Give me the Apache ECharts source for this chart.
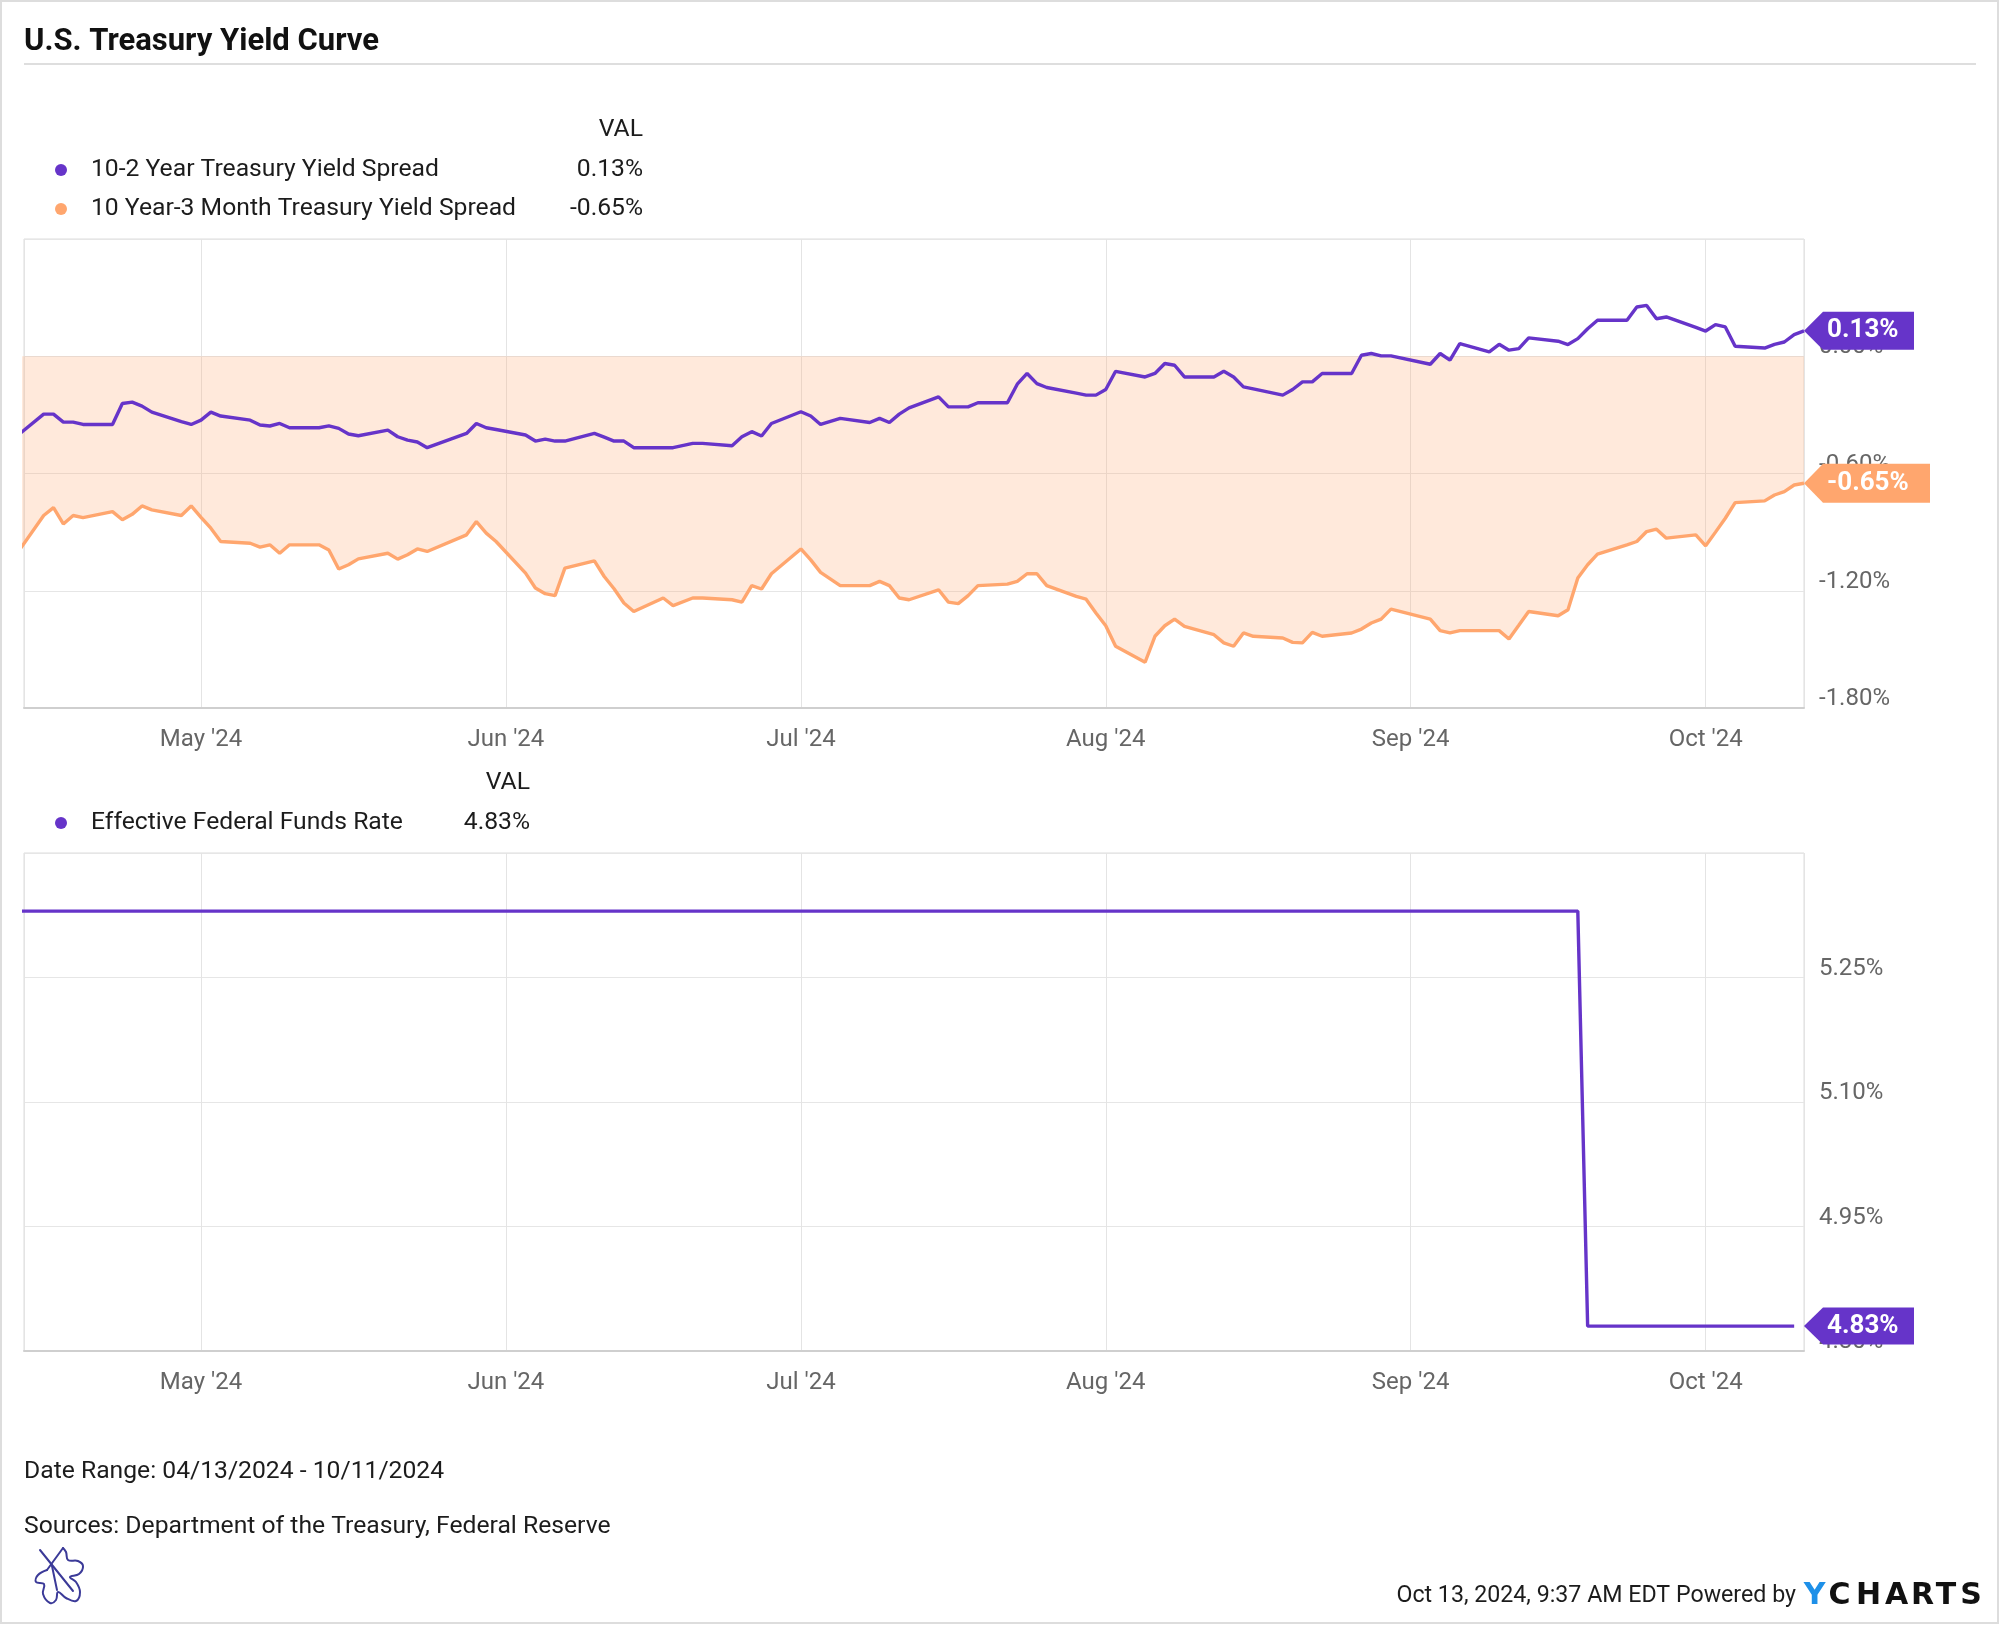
<!DOCTYPE html>
<html>
<head>
<meta charset="utf-8">
<script src="https://cdn.jsdelivr.net/npm/echarts@6/dist/echarts.min.js"></script>
<style>
html,body{margin:0;padding:0;background:#fff;}
#chart{width:2000px;height:1625px;}
</style>
</head>
<body>
<div id="chart"></div>
<script>
// ---------------- DATA ----------------
const dates = [
 '2024-04-12','2024-04-15','2024-04-16','2024-04-17','2024-04-18','2024-04-19',
 '2024-04-22','2024-04-23','2024-04-24','2024-04-25','2024-04-26',
 '2024-04-29','2024-04-30','2024-05-01','2024-05-02','2024-05-03',
 '2024-05-06','2024-05-07','2024-05-08','2024-05-09','2024-05-10',
 '2024-05-13','2024-05-14','2024-05-15','2024-05-16','2024-05-17',
 '2024-05-20','2024-05-21','2024-05-22','2024-05-23','2024-05-24',
 '2024-05-28','2024-05-29','2024-05-30','2024-05-31',
 '2024-06-03','2024-06-04','2024-06-05','2024-06-06','2024-06-07',
 '2024-06-10','2024-06-11','2024-06-12','2024-06-13','2024-06-14',
 '2024-06-17','2024-06-18','2024-06-20','2024-06-21',
 '2024-06-24','2024-06-25','2024-06-26','2024-06-27','2024-06-28',
 '2024-07-01','2024-07-02','2024-07-03','2024-07-05',
 '2024-07-08','2024-07-09','2024-07-10','2024-07-11','2024-07-12',
 '2024-07-15','2024-07-16','2024-07-17','2024-07-18','2024-07-19',
 '2024-07-22','2024-07-23','2024-07-24','2024-07-25','2024-07-26',
 '2024-07-29','2024-07-30','2024-07-31','2024-08-01','2024-08-02',
 '2024-08-05','2024-08-06','2024-08-07','2024-08-08','2024-08-09',
 '2024-08-12','2024-08-13','2024-08-14','2024-08-15','2024-08-16',
 '2024-08-19','2024-08-20','2024-08-21','2024-08-22','2024-08-23',
 '2024-08-26','2024-08-27','2024-08-28','2024-08-29','2024-08-30',
 '2024-09-03','2024-09-04','2024-09-05','2024-09-06',
 '2024-09-09','2024-09-10','2024-09-11','2024-09-12','2024-09-13',
 '2024-09-16','2024-09-17','2024-09-18','2024-09-19','2024-09-20',
 '2024-09-23','2024-09-24','2024-09-25','2024-09-26','2024-09-27',
 '2024-09-30','2024-10-01','2024-10-02','2024-10-03','2024-10-04',
 '2024-10-07','2024-10-08','2024-10-09','2024-10-10','2024-10-11'
];
const spread10y2y = [
 -0.42,-0.296,-0.296,-0.337,-0.337,-0.349,
 -0.349,-0.242,-0.235,-0.255,-0.286,
 -0.335,-0.349,-0.327,-0.286,-0.306,
 -0.327,-0.352,-0.357,-0.344,-0.366,
 -0.366,-0.356,-0.369,-0.398,-0.407,
 -0.378,-0.412,-0.429,-0.439,-0.468,
 -0.395,-0.344,-0.366,-0.375,
 -0.403,-0.434,-0.424,-0.434,-0.434,
 -0.395,-0.414,-0.434,-0.434,-0.468,
 -0.468,-0.468,-0.446,-0.446,
 -0.458,-0.412,-0.386,-0.408,-0.344,
 -0.284,-0.306,-0.349,-0.318,
 -0.339,-0.318,-0.339,-0.296,-0.264,
 -0.208,-0.259,-0.259,-0.259,-0.238,
 -0.238,-0.143,-0.088,-0.140,-0.160,
 -0.189,-0.199,-0.199,-0.170,-0.077,
 -0.106,-0.088,-0.037,-0.046,-0.106,
 -0.106,-0.077,-0.106,-0.157,-0.167,
 -0.199,-0.170,-0.131,-0.131,-0.088,
 -0.088,0.005,0.014,0.002,0.002,
 -0.041,0.014,-0.020,0.065,
 0.022,0.061,0.031,0.039,0.094,
 0.077,0.060,0.090,0.141,0.184,
 0.184,0.252,0.260,0.192,0.201,
 0.148,0.129,0.162,0.150,0.051,
 0.042,0.061,0.073,0.111,0.13
];
const spread10y3m = [
 -1.03,-0.815,-0.775,-0.858,-0.815,-0.826,
 -0.795,-0.837,-0.809,-0.766,-0.786,
 -0.815,-0.766,-0.824,-0.880,-0.948,
 -0.957,-0.977,-0.965,-1.008,-0.965,
 -0.965,-0.991,-1.089,-1.067,-1.037,
 -1.008,-1.038,-1.016,-0.986,-0.999,
 -0.914,-0.846,-0.905,-0.948,
 -1.110,-1.186,-1.215,-1.225,-1.084,
 -1.047,-1.127,-1.190,-1.263,-1.306,
 -1.237,-1.276,-1.237,-1.237,
 -1.246,-1.258,-1.174,-1.191,-1.113,
 -0.986,-1.042,-1.106,-1.174,
 -1.174,-1.152,-1.174,-1.237,-1.246,
 -1.195,-1.258,-1.266,-1.225,-1.174,
 -1.166,-1.152,-1.113,-1.113,-1.174,
 -1.229,-1.243,-1.314,-1.379,-1.484,
 -1.566,-1.433,-1.379,-1.345,-1.382,
 -1.425,-1.467,-1.484,-1.416,-1.433,
 -1.442,-1.464,-1.467,-1.413,-1.433,
 -1.416,-1.396,-1.365,-1.345,-1.294,
 -1.345,-1.404,-1.416,-1.404,
 -1.404,-1.404,-1.447,-1.377,-1.306,
 -1.328,-1.297,-1.135,-1.067,-1.013,
 -0.965,-0.948,-0.897,-0.885,-0.931,
 -0.914,-0.970,-0.900,-0.829,-0.749,
 -0.740,-0.710,-0.693,-0.659,-0.65
];
const effrDates  = ['2024-04-12','2024-09-18','2024-09-19','2024-10-10'];
const effrValues = [5.33, 5.33, 4.83, 4.83];

const seriesNames = ['10-2 Year Treasury Yield Spread','10 Year-3 Month Treasury Yield Spread','Effective Federal Funds Rate'];
const monthTicks  = ['2024-05-01','2024-06-01','2024-07-01','2024-08-01','2024-09-01','2024-10-01'];
const monthLabels = ["May '24","Jun '24","Jul '24","Aug '24","Sep '24","Oct '24"];
const axisStart = '2024-04-13';
const axisEnd   = '2024-10-11';

// ---------------- HELPERS ----------------
function ts(s){ const p = s.split('-').map(Number); return new Date(p[0], p[1]-1, p[2]).getTime(); }
const FONT = 'Roboto, "Noto Sans", sans-serif';
const PURPLE = '#6634C9';
const ORANGE = '#FFA66E';
const TXT = '#1c1c1c';
const AXT = '#666666';
const pct = v => (Math.abs(v) < 1e-9 ? 0 : v).toFixed(2) + '%';

const monthTs = monthTicks.map(ts);
const xMin = ts(axisStart), xMax = ts(axisEnd);

const d1 = dates.map((d,i)=>[ts(d), spread10y2y[i]]);
const d2 = dates.map((d,i)=>[ts(d), spread10y3m[i]]);
const d3 = effrDates.map((d,i)=>[ts(d), effrValues[i]]);

const last1 = spread10y2y[spread10y2y.length-1];
const last2 = spread10y3m[spread10y3m.length-1];
const last3 = effrValues[effrValues.length-1];

function monthLabel(v){
  let best = -1, bd = Infinity;
  monthTs.forEach((m,k)=>{ const d = Math.abs(m - v); if (d < bd) { bd = d; best = k; } });
  return (best >= 0 && bd < 2 * 3600 * 1000) ? monthLabels[best] : '';
}

function badge(color, w, h, val){
  return {
    silent: true,
    symbol: 'path://M0,' + (h/2) + 'L19,0L' + w + ',0L' + w + ',' + h + 'L19,' + h + 'Z',
    symbolSize: [w, h],
    symbolOffset: [w/2, 0],
    symbolKeepAspect: false,
    itemStyle: { color: color },
    label: {
      show: true, position: 'insideLeft', distance: 23,
      color: '#fff', fontSize: 26, fontWeight: 'bold', fontFamily: FONT,
      formatter: () => pct(val)
    },
    data: [{ coord: [xMax, val], value: val }]
  };
}

function xAxisCfg(i, margin){
  return {
    type: 'time', gridIndex: i, min: xMin, max: xMax, splitNumber: 6,
    axisLine: { show: true, onZero: false, lineStyle: { color: '#cfcfcf', width: 2 } },
    axisTick: { show: false },
    axisLabel: {
      color: AXT, fontSize: 24, fontFamily: FONT, margin: margin, fontWeight: 'normal',
      showMinLabel: false, showMaxLabel: false, hideOverlap: false,
      formatter: v => monthLabel(v)
    },
    splitLine: { show: true, lineStyle: { color: '#e4e4e4', width: 1 } }
  };
}
function yAxisCfg(i, min, max, interval){
  return {
    type: 'value', gridIndex: i, position: 'right', min: min, max: max, interval: interval,
    axisLine: { show: false }, axisTick: { show: false },
    axisLabel: { showMaxLabel: false, color: AXT, fontSize: 24, fontFamily: FONT, margin: 15,
      verticalAlign: 'bottom', lineHeight: 18, align: 'left', formatter: v => pct(v) },
    splitLine: { show: true, lineStyle: { color: '#e6e6e6', width: 1 } }
  };
}

function txt(x, y, text, opts){
  opts = opts || {};
  return { type: 'text', x: x, y: y, z: 10, silent: true,
    style: { text: text, fill: opts.fill || TXT, fontSize: opts.size || 24.7,
      fontWeight: opts.weight || 'normal', fontFamily: opts.family || FONT,
      align: opts.align || 'left', textAlign: opts.align || 'left',
      verticalAlign: 'middle', textVerticalAlign: 'middle' } };
}
function dot(x, y, color){
  return { type: 'circle', z: 10, silent: true, shape: { cx: x, cy: y, r: 6 }, style: { fill: color } };
}
function stroke(points, smooth){
  return { type: 'polyline', z: 10, silent: true, shape: { points: points, smooth: smooth || 0 },
    style: { stroke: '#3b3a98', fill: null, lineWidth: 2, lineCap: 'round', lineJoin: 'round' } };
}

// YCHARTS wordmark letters (layout)
const logoLetters = ['Y','C','H','A','R','T','S'];
const logoCenters = [1814.5, 1839.5, 1868.5, 1896.5, 1922.5, 1946, 1971];

const graphics = [
  { type: 'rect', silent: true, z: 0, shape: { x: 1, y: 1, width: 1997, height: 1622 },
    style: { fill: null, stroke: '#dddddd', lineWidth: 2 } },
  txt(24, 42, 'U.S. Treasury Yield Curve', { size: 31, weight: 'bold', fill: '#111' }),
  { type: 'line', silent: true, shape: { x1: 24, y1: 64, x2: 1976, y2: 64 },
    style: { stroke: '#d3d3d3', lineWidth: 1.5 } },
  // legend 1
  txt(643, 130, 'VAL', { align: 'right' }),
  dot(61, 170, PURPLE), txt(91, 170, seriesNames[0]), txt(643, 170, pct(last1), { align: 'right' }),
  dot(61, 209, ORANGE), txt(91, 209, seriesNames[1]), txt(643, 209, pct(last2), { align: 'right' }),
  // legend 2
  txt(530, 783, 'VAL', { align: 'right' }),
  dot(61, 823, PURPLE), txt(91, 823, seriesNames[2]), txt(530, 823, pct(last3), { align: 'right' }),
  // footer
  txt(24, 1472, 'Date Range: 04/13/2024 - 10/11/2024'),
  txt(24, 1527, 'Sources: Department of the Treasury, Federal Reserve'),
  txt(1796, 1596, 'Oct 13, 2024, 9:37 AM EDT Powered by', { align: 'right', size: 23.2 }),
  stroke([[47,1570],[38,1575],[36,1582],[44,1584],[43,1594],[50,1603],[56,1600],[58,1592],[66,1598],[76,1601],[80,1592],[76,1582],[70,1577],[79,1574],[83,1566],[78,1561],[68,1560],[66,1552],[63,1548]], 0.4),
  stroke([[40,1550],[73,1591]]),
  stroke([[63,1548],[47,1570]]),
  stroke([[52,1566],[57,1590]])
];
logoLetters.forEach((ch, i) => {
  graphics.push(txt(logoCenters[i], 1596, ch, { align: 'center', size: 30, weight: 'bold',
    family: '"DejaVu Sans", ' + FONT, fill: i === 0 ? '#1e90e8' : '#111' }));
});

const option = {
  animation: false,
  backgroundColor: '#ffffff',
  textStyle: { fontFamily: FONT },
  grid: [
    { left: 24, right: 196, top: 239, height: 469, show: true, borderColor: '#dcdcdc', borderWidth: 1, containLabel: false },
    { left: 24, right: 196, top: 853, height: 498, show: true, borderColor: '#dcdcdc', borderWidth: 1, containLabel: false }
  ],
  xAxis: [ xAxisCfg(0, 20), xAxisCfg(1, 20) ],
  yAxis: [ yAxisCfg(0, -1.8, 0.6, 0.6), yAxisCfg(1, 4.8, 5.4, 0.15) ],
  series: [
    { name: seriesNames[0], type: 'line', xAxisIndex: 0, yAxisIndex: 0, data: d1,
      symbol: 'none', color: PURPLE, lineStyle: { color: PURPLE, width: 3.4 }, z: 2,
      markPoint: badge(PURPLE, 110, 38, last1) },
    { name: seriesNames[1], type: 'line', xAxisIndex: 0, yAxisIndex: 0, data: d2,
      symbol: 'none', color: ORANGE, lineStyle: { color: ORANGE, width: 3.4 }, z: 2,
      areaStyle: { color: ORANGE, opacity: 0.25, origin: 'auto' },
      markPoint: badge(ORANGE, 126, 39, last2) },
    { name: seriesNames[2], type: 'line', xAxisIndex: 1, yAxisIndex: 1, data: d3,
      symbol: 'none', color: PURPLE, lineStyle: { color: PURPLE, width: 3.4 }, z: 2,
      markPoint: badge(PURPLE, 110, 37, last3) }
  ],
  graphic: graphics
};

const chart = echarts.init(document.getElementById('chart'), null, { renderer: 'canvas', width: 2000, height: 1625 });
chart.setOption(option);
</script>
</body>
</html>
